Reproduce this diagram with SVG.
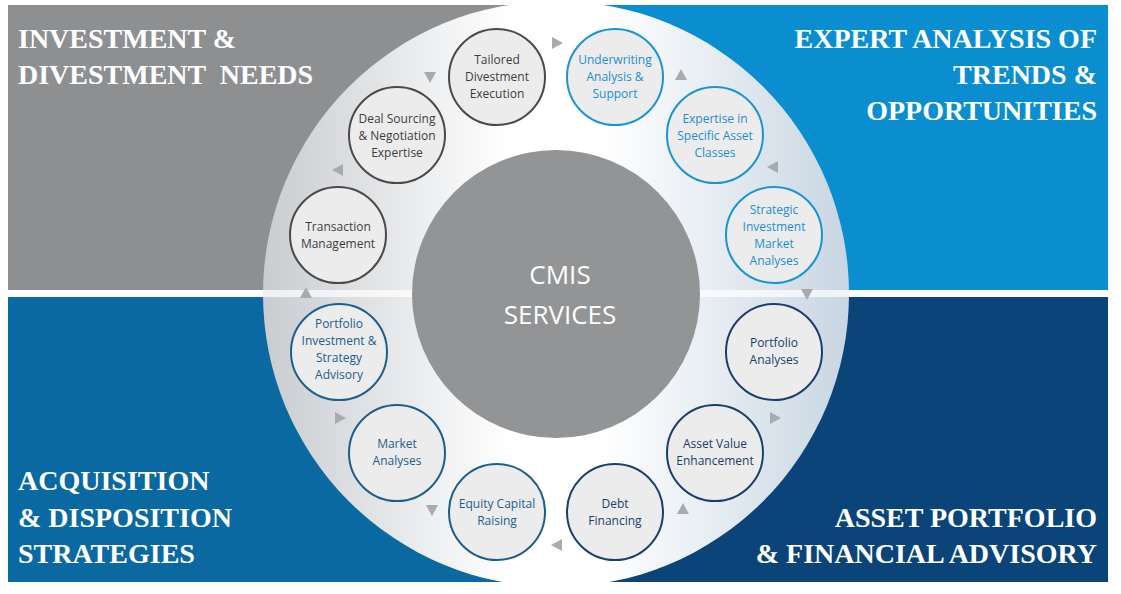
<svg xmlns="http://www.w3.org/2000/svg" width="1121" height="594" viewBox="0 0 1121 594">
<defs>
<linearGradient id="ring" x1="0" y1="0" x2="1" y2="0">
<stop offset="0" stop-color="#c9ccd0"/><stop offset="0.42" stop-color="#ffffff"/><stop offset="0.58" stop-color="#ffffff"/><stop offset="1" stop-color="#c8d6e2"/>
</linearGradient>
<style>
.t{font-family:"Liberation Serif",serif;font-weight:bold;font-size:28px;fill:#fff;white-space:pre}
.r{text-anchor:end}
.n{font-family:"Open Sans","Liberation Sans",sans-serif;font-size:12px;text-anchor:middle}
.c{fill:#ececec;stroke-width:2}
.tl circle{stroke:#4a4a4a}.tl text{fill:#3d3d3d}
.tr circle{stroke:#1a95d3}.tr text{fill:#1a8fd0}
.bl circle{stroke:#1d5f8c}.bl text{fill:#1c5e8e}
.br circle{stroke:#1a3f6e}.br text{fill:#1c3d6b}
.a{fill:#a8abae}
</style>
</defs>
<rect width="1121" height="594" fill="#fff"/>
<rect x="8" y="5" width="565" height="285" fill="#8e8f91"/>
<rect x="573" y="5" width="535" height="285" fill="#0b8ed0"/>
<rect x="8" y="297" width="565" height="285" fill="#0a69a1"/>
<rect x="573" y="297" width="535" height="285" fill="#0b4479"/>
<circle cx="556" cy="294" r="293" fill="url(#ring)"/>
<rect x="262" y="290" width="590" height="7" fill="#fff" opacity="0.7"/>
<circle id="center" cx="556" cy="294" r="144" fill="#939496"/>
<text x="560" y="284" font-family="'Open Sans','Liberation Sans',sans-serif" font-size="26" fill="#fff" text-anchor="middle">CMIS</text>
<text x="560" y="324" font-family="'Open Sans','Liberation Sans',sans-serif" font-size="26" fill="#fff" text-anchor="middle">SERVICES</text>
<g id="titles">
<text class="t" x="18" y="48">INVESTMENT &amp;</text>
<text class="t" x="18" y="84">DIVESTMENT  NEEDS</text>
<text class="t r" x="1097" y="48">EXPERT ANALYSIS OF</text>
<text class="t r" x="1097" y="84">TRENDS &amp;</text>
<text class="t r" x="1097" y="120">OPPORTUNITIES</text>
<text class="t" x="18" y="490">ACQUISITION</text>
<text class="t" x="18" y="527">&amp; DISPOSITION</text>
<text class="t" x="18" y="563">STRATEGIES</text>
<text class="t r" x="1097" y="527">ASSET PORTFOLIO</text>
<text class="t r" x="1097" y="563">&amp; FINANCIAL ADVISORY</text>
</g>
<g id="connectors">
<polygon class="a" points="552,37 563,43 552,49"/>
<polygon class="a" points="424,72 436,72 430,83"/>
<polygon class="a" points="343,164 343,176 332,170"/>
<polygon class="a" points="300,298 312,298 306,287"/>
<polygon class="a" points="675,80 687,80 681,69"/>
<polygon class="a" points="778,161 778,173 767,167"/>
<polygon class="a" points="801,289 813,289 807,300"/>
<polygon class="a" points="770,412 770,424 781,418"/>
<polygon class="a" points="677,514 689,514 683,503"/>
<polygon class="a" points="562,539 562,551 551,545"/>
<polygon class="a" points="426,505 438,505 432,516"/>
<polygon class="a" points="335,412 335,424 346,418"/>
</g>
<g id="n1" class="tl"><circle class="c" cx="497" cy="77" r="48"/><text class="n" y="64"><tspan x="497">Tailored</tspan><tspan x="497" dy="17">Divestment</tspan><tspan x="497" dy="17">Execution</tspan></text></g>
<g id="n2" class="tl"><circle class="c" cx="397" cy="135" r="48"/><text class="n" y="123"><tspan x="397">Deal Sourcing</tspan><tspan x="397" dy="17">&amp; Negotiation</tspan><tspan x="397" dy="17">Expertise</tspan></text></g>
<g id="n3" class="tl"><circle class="c" cx="338" cy="235" r="48"/><text class="n" y="231"><tspan x="338">Transaction</tspan><tspan x="338" dy="17">Management</tspan></text></g>
<g id="n4" class="tr"><circle class="c" cx="615" cy="77" r="48"/><text class="n" y="64"><tspan x="615">Underwriting</tspan><tspan x="615" dy="17">Analysis &amp;</tspan><tspan x="615" dy="17">Support</tspan></text></g>
<g id="n5" class="tr"><circle class="c" cx="715" cy="135" r="48"/><text class="n" y="123"><tspan x="715">Expertise in</tspan><tspan x="715" dy="17">Specific Asset</tspan><tspan x="715" dy="17">Classes</tspan></text></g>
<g id="n6" class="tr"><circle class="c" cx="774" cy="235" r="48"/><text class="n" y="214"><tspan x="774">Strategic</tspan><tspan x="774" dy="17">Investment</tspan><tspan x="774" dy="17">Market</tspan><tspan x="774" dy="17">Analyses</tspan></text></g>
<g id="n7" class="bl"><circle class="c" cx="339" cy="352" r="48"/><text class="n" y="328"><tspan x="339">Portfolio</tspan><tspan x="339" dy="17">Investment &amp;</tspan><tspan x="339" dy="17">Strategy</tspan><tspan x="339" dy="17">Advisory</tspan></text></g>
<g id="n8" class="bl"><circle class="c" cx="397" cy="453" r="48"/><text class="n" y="448"><tspan x="397">Market</tspan><tspan x="397" dy="17">Analyses</tspan></text></g>
<g id="n9" class="bl"><circle class="c" cx="497" cy="512" r="48"/><text class="n" y="508"><tspan x="497">Equity Capital</tspan><tspan x="497" dy="17">Raising</tspan></text></g>
<g id="n10" class="br"><circle class="c" cx="615" cy="512" r="48"/><text class="n" y="508"><tspan x="615">Debt</tspan><tspan x="615" dy="17">Financing</tspan></text></g>
<g id="n11" class="br"><circle class="c" cx="715" cy="453" r="48"/><text class="n" y="448"><tspan x="715">Asset Value</tspan><tspan x="715" dy="17">Enhancement</tspan></text></g>
<g id="n12" class="br"><circle class="c" cx="774" cy="352" r="48"/><text class="n" y="347"><tspan x="774">Portfolio</tspan><tspan x="774" dy="17">Analyses</tspan></text></g>
</svg>
